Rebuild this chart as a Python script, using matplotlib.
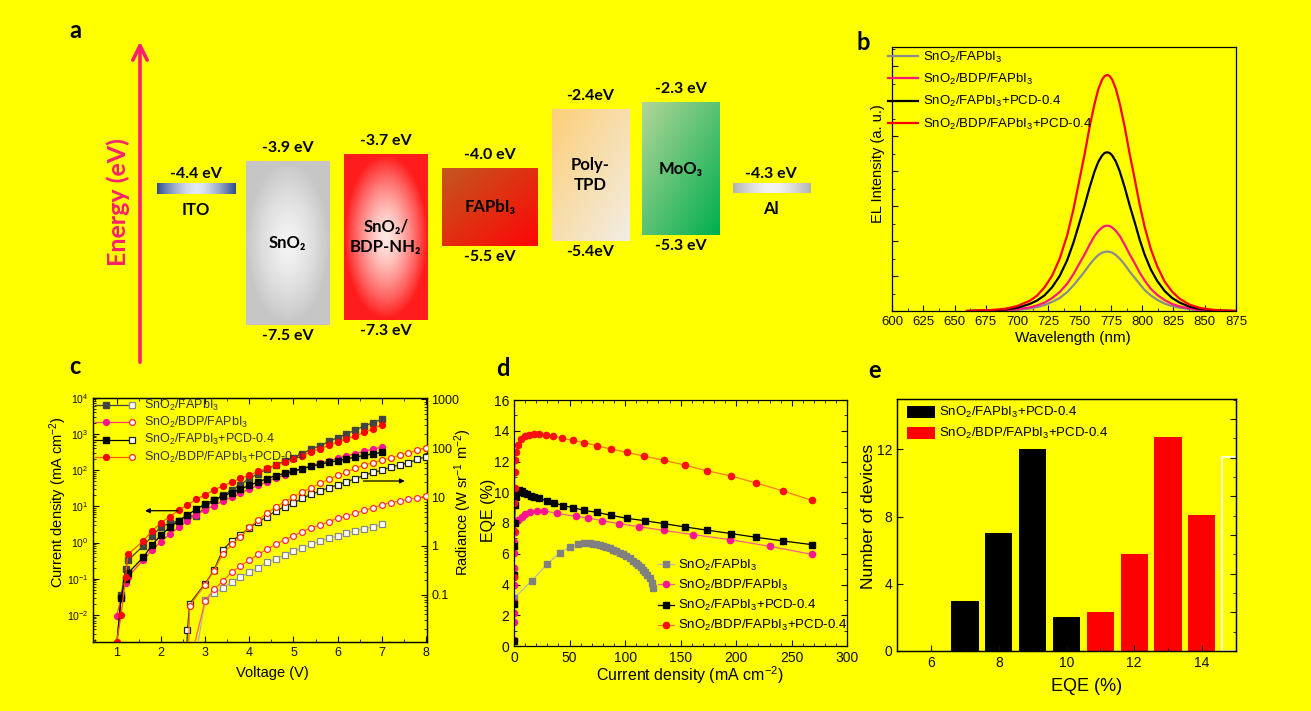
import numpy as np
import matplotlib
matplotlib.use('Agg')
import matplotlib.pyplot as plt
from matplotlib.ticker import MultipleLocator, LogLocator, NullFormatter

plt.rcParams['font.family'] = ['Liberation Sans', 'DejaVu Sans']
plt.rcParams['mathtext.fontset'] = 'custom'
plt.rcParams['mathtext.rm'] = 'Liberation Sans'
plt.rcParams['mathtext.it'] = 'Liberation Sans:italic'
plt.rcParams['mathtext.bf'] = 'Liberation Sans:bold'
plt.rcParams['axes.linewidth'] = 0.9

W, H = 1311, 711
BG = '#ffff00'
MAGENTA = '#ff1f6e'
A_FONT = ['Lato', 'DejaVu Sans']

# ---------------- (a) energy levels ----------------
layers = ['ITO', 'SnO₂', 'SnO₂/\nBDP-NH₂', 'FAPbI₃', 'Poly-\nTPD', 'MoO₃', 'Al']
level_top = [-4.4, -3.9, -3.7, -4.0, -2.4, -2.3, -4.3]
level_bottom = [None, -7.5, -7.3, -5.5, -5.4, -5.3, None]

# ---------------- (b) EL spectra ----------------
wavelength = [660, 680, 690, 700, 710, 716, 722, 728, 734, 740, 745, 750, 754, 758, 762,
              765, 768, 770, 772, 774, 776, 779, 782, 786, 790, 794, 798, 802, 807, 812,
              818, 824, 830, 838, 846, 855, 865, 875]
el_ref = [0.0, 0.01, 0.02, 0.03, 0.07, 0.11, 0.17, 0.26, 0.37, 0.54, 0.73, 0.95, 1.13, 1.33,
          1.50, 1.60, 1.67, 1.69, 1.70, 1.69, 1.67, 1.60, 1.50, 1.33, 1.13, 0.95, 0.77, 0.60,
          0.44, 0.32, 0.21, 0.14, 0.09, 0.05, 0.02, 0.01, 0.0, 0.0]
el_bdp = [0.0, 0.01, 0.02, 0.05, 0.10, 0.16, 0.24, 0.37, 0.54, 0.78, 1.05, 1.37, 1.62, 1.90,
          2.15, 2.29, 2.39, 2.43, 2.44, 2.43, 2.39, 2.29, 2.15, 1.90, 1.62, 1.37, 1.10, 0.87,
          0.63, 0.46, 0.31, 0.20, 0.13, 0.07, 0.03, 0.01, 0.0, 0.0]
el_pcd = [0.0, 0.02, 0.04, 0.09, 0.20, 0.30, 0.45, 0.68, 1.00, 1.45, 1.95, 2.54, 3.02, 3.54,
          4.00, 4.27, 4.45, 4.52, 4.54, 4.52, 4.45, 4.27, 4.00, 3.54, 3.02, 2.54, 2.04, 1.61,
          1.18, 0.86, 0.57, 0.37, 0.24, 0.12, 0.06, 0.03, 0.01, 0.0]
el_bdp_pcd = [0.0, 0.03, 0.06, 0.14, 0.29, 0.44, 0.68, 1.01, 1.49, 2.16, 2.90, 3.78, 4.49,
              5.27, 5.94, 6.35, 6.62, 6.72, 6.75, 6.72, 6.62, 6.35, 5.94, 5.27, 4.49, 3.78,
              3.04, 2.40, 1.76, 1.28, 0.84, 0.55, 0.35, 0.18, 0.09, 0.04, 0.01, 0.0]

# ---------------- (c) J-V and radiance ----------------
voltage = [1.0, 1.1, 1.2, 1.25, 1.6, 1.8, 2.0, 2.2, 2.4, 2.6, 2.8, 3.0, 3.2, 3.4, 3.6, 3.8,
           4.0, 4.2, 4.4, 4.6, 4.8, 5.0, 5.2, 5.4, 5.6, 5.8, 6.0, 6.2, 6.4, 6.6, 6.8, 7.0]
j_ref = [0.0015, 0.035, 0.19, 0.32, 0.8, 1.5, 2.7, 3.4, 4.0, 5.5, 5.3, 9.5, 14.5, 20, 28, 40,
         58, 80, 107, 138, 178, 220, 285, 380, 470, 620, 790, 1000, 1280, 1650, 2040, 2520]
j_bdp = [0.0093, 0.03, 0.075, 0.11, 0.33, 0.62, 1.05, 1.7, 2.6, 4.0, 5.8, 8, 10.5, 14, 18, 23,
         30, 38, 48, 60, 74, 92, 110, 130, 155, 180, 210, 245, 285, 330, 380, 430]
j_pcd = [0.0015, 0.03, 0.1, 0.14, 0.39, 0.85, 1.6, 2.6, 4.0, 5.8, 8.3, 11.5, 15, 19, 24, 30,
         38, 47, 58, 70, 82, 94, 110, 127, 145, 164, 183, 203, 228, 255, 280, 310]
j_bdp_pcd = [0.0018, 0.010, 0.11, 0.47, 1.1, 2.1, 3.5, 5.1, 7.8, 11, 15.5, 21, 28, 37, 46, 59,
             73, 92, 112, 135, 165, 200, 250, 320, 390, 480, 600, 730, 880, 1100, 1400, 1780]

v_rad_ref = [2.78, 3.0, 3.2, 3.4, 3.6, 3.8, 4.0, 4.2, 4.4, 4.6, 4.8, 5.0, 5.2, 5.4, 5.6, 5.8,
             6.0, 6.2, 6.4, 6.6, 6.8, 7.0]
rad_ref = [0.005, 0.077, 0.107, 0.14, 0.18, 0.23, 0.29, 0.36, 0.46, 0.55, 0.65, 0.79, 0.92,
           1.08, 1.26, 1.44, 1.6, 1.82, 2.03, 2.26, 2.45, 2.77]
v_rad_bdp = [2.68, 3.0, 3.2, 3.4, 3.6, 3.8, 4.0, 4.2, 4.4, 4.6, 4.8, 5.0, 5.2, 5.4, 5.6, 5.8,
             6.0, 6.2, 6.4, 6.6, 6.8, 7.0, 7.2, 7.4, 7.6, 7.8, 8.0]
rad_bdp = [0.005, 0.075, 0.13, 0.19, 0.29, 0.39, 0.51, 0.67, 0.86, 1.08, 1.35, 1.6, 1.97, 2.37,
           2.65, 3.15, 3.68, 4.1, 4.66, 5.37, 6.1, 6.9, 7.7, 8.3, 9.0, 9.7, 10.5]
v_rad_pcd = [2.58, 2.6, 2.65, 3.0, 3.2, 3.4, 3.6, 3.8, 4.0, 4.2, 4.4, 4.6, 4.8, 5.0, 5.2, 5.4,
             5.6, 5.8, 6.0, 6.2, 6.4, 6.6, 6.8, 7.0, 7.2, 7.4, 7.6, 7.8, 8.0]
rad_pcd = [0.005, 0.019, 0.066, 0.17, 0.32, 0.83, 1.26, 1.68, 2.37, 3.1, 4.0, 5.2, 6.4, 7.6,
           9.4, 11.4, 13.3, 15.6, 17.7, 20.7, 23.8, 28, 32, 35.3, 41.3, 45.4, 50.7, 59.3, 67]
v_rad_bdp_pcd = [2.62, 2.65, 3.0, 3.2, 3.4, 3.6, 3.8, 4.0, 4.2, 4.4, 4.6, 4.8, 5.0, 5.2, 5.4,
                 5.6, 5.8, 6.0, 6.2, 6.4, 6.6, 6.8, 7.0, 7.2, 7.4, 7.6, 7.8, 8.0]
rad_bdp_pcd = [0.005, 0.06, 0.16, 0.31, 0.68, 1.08, 1.5, 2.45, 3.35, 4.8, 6.3, 8.1, 10.2, 12.7,
               15.6, 19.1, 23, 27.9, 32.6, 38.8, 45.4, 50.7, 56.5, 64, 71.6, 81, 90.5, 103]

# ---------------- (d) EQE vs current density ----------------
jd_ref = [0, 16, 30, 41, 50, 58, 63, 68, 71, 74, 77, 80, 83, 86, 89, 92, 95, 98, 101, 104,
          107, 110, 112, 114, 116, 118, 120, 122, 124, 125.5]
eqe_ref = [3.1, 4.25, 5.33, 6.05, 6.42, 6.63, 6.68, 6.68, 6.65, 6.61, 6.56, 6.50, 6.43, 6.35,
           6.27, 6.18, 6.08, 5.96, 5.84, 5.70, 5.55, 5.40, 5.27, 5.13, 4.97, 4.80, 4.62, 4.40,
           4.10, 3.80]
jd_bdp = [0.01, 0.03, 0.05, 0.08, 0.12, 0.2, 0.3, 0.45, 0.7, 1.1, 2.0, 3.9, 6.9, 9.9, 14.4,
          20.4, 27.0, 39.0, 55.8, 66.9, 79.5, 94.5, 112.5, 134.7, 161.4, 194.7, 230.4, 268.2]
eqe_bdp = [0.39, 1.58, 2.12, 2.88, 3.97, 5.05, 6.03, 6.79, 7.44, 7.98, 8.1, 8.2, 8.41, 8.61,
           8.74, 8.8, 8.8, 8.62, 8.43, 8.33, 8.15, 7.96, 7.76, 7.52, 7.24, 6.92, 6.48, 5.96]
jd_pcd = [0.0, 0.05, 0.1, 0.2, 0.5, 1.0, 1.5, 3.3, 4.8, 6.9, 9.3, 12.0, 15.0, 18.3, 22.8, 29.4,
          36.3, 43.8, 53.4, 63.0, 75.0, 87.3, 102.0, 117.6, 134.7, 154.2, 173.4, 195.6, 217.8,
          242.4, 268.2]
eqe_pcd = [0.3, 2.7, 4.6, 6.5, 8.0, 9.2, 9.7, 10.0, 10.15, 10.08, 9.97, 9.86, 9.78, 9.71, 9.6,
           9.45, 9.32, 9.13, 9.0, 8.82, 8.69, 8.5, 8.3, 8.15, 7.96, 7.74, 7.54, 7.31, 7.07, 6.83,
           6.59]
jd_bdp_pcd = [0.0, 0.1, 0.3, 0.6, 0.9, 1.2, 2.1, 3.9, 6.3, 9.9, 13.8, 18.3, 22.8, 28.8, 35.4,
              43.5, 52.8, 63.3, 74.4, 87.3, 101.7, 117.3, 135.0, 153.6, 173.4, 195.3, 218.1,
              242.4, 268.2]
eqe_bdp_pcd = [4.5, 7.5, 9.3, 10.3, 11.3, 12.1, 12.65, 13.1, 13.45, 13.65, 13.74, 13.78, 13.79,
               13.72, 13.66, 13.5, 13.38, 13.22, 13.03, 12.81, 12.6, 12.34, 12.08, 11.77, 11.4,
               11.06, 10.6, 10.08, 9.47]

# ---------------- (e) EQE histogram ----------------
bins_pcd = [7, 8, 9, 10]
count_pcd = [3, 7, 12, 2]
bins_bdp_pcd = [11, 12, 13, 14]
count_bdp_pcd = [2.3, 5.8, 12.75, 8.1]
bins_edge = [15]
count_edge = [11.55]

lab_ref = 'SnO$_2$/FAPbI$_3$'
lab_bdp = 'SnO$_2$/BDP/FAPbI$_3$'
lab_pcd = 'SnO$_2$/FAPbI$_3$+PCD-0.4'
lab_bdp_pcd = 'SnO$_2$/BDP/FAPbI$_3$+PCD-0.4'


def px_rect(x0, y0, x1, y1):
    return [x0 / W, 1 - y1 / H, (x1 - x0) / W, (y1 - y0) / H]


def style_ticks(ax, size):
    ax.tick_params(which='both', direction='in', labelsize=size, colors='#111111')
    ax.tick_params(which='major', length=4, width=0.8)
    ax.tick_params(which='minor', length=2, width=0.6)
    ax.set_facecolor('none')


fig = plt.figure(figsize=(W / 100, H / 100), dpi=100, facecolor=BG)

# ======== panel a ========
ax_a = fig.add_axes(px_rect(0, 0, 840, 360))
e_knots = np.array([-8.2, -7.5, -7.3, -5.5, -5.4, -5.3, -4.4, -4.3, -4.0, -3.9, -3.7, -2.4, -2.3, -1.0])
px_knots = np.array([360, 325, 320, 245.7, 241, 235.3, 188.8, 188.0, 167.7, 161, 154, 109, 101.7, 0])


def e_fwd(e):
    return -np.interp(e, e_knots, px_knots)


def e_inv(v):
    return np.interp(-np.asarray(v), px_knots[::-1], e_knots[::-1])


ax_a.set_yscale('function', functions=(e_fwd, e_inv))
ax_a.set_xlim(0, 840)
ax_a.set_ylim(-8.2, -1.0)
ax_a.set_axis_off()
ax_a.set_zorder(5)

slot_left = [156.7, 246, 344, 442.3, 551.7, 642.3, 732.7]
slot_right = [235, 329.3, 427.7, 537.7, 629.3, 720, 810]
fills = [('h', '#e3e9f3', '#2f4e8c'), ('r', '#f4f4f4', '#c6c6c6'), ('r', '#ffeae4', '#ff1c1c'),
         ('d', '#c3581f', '#ff0505'), ('d', '#fdcf78', '#f2ede4'), ('d', '#b3d698', '#00ae4e'),
         ('h', '#f4f4f4', '#b2b2b2')]


def gradient(kind, c0, c1, n=80):
    c0 = np.array(matplotlib.colors.to_rgb(c0))
    c1 = np.array(matplotlib.colors.to_rgb(c1))
    X, Y = np.meshgrid(np.linspace(-1, 1, n), np.linspace(-1, 1, n))
    if kind == 'h':
        t = np.abs(X) ** 1.6
    elif kind == 'r':
        t = np.clip(np.hypot(X, Y), 0, 1) ** 1.4
    else:
        t = (X + Y + 2) / 4
    return c0 * (1 - t)[..., None] + c1 * t[..., None]


inv_fig = fig.transFigure.inverted()
for i, name in enumerate(layers):
    xl, xr = slot_left[i], slot_right[i]
    xc = (xl + xr) / 2
    top, bot = level_top[i], level_bottom[i]
    (dx0, dyt), (dx1, _) = ax_a.transData.transform([(xl, top), (xr, top)])
    if bot is None:
        dy0, dy1 = dyt - 5.5, dyt + 5.5
    else:
        dy0 = ax_a.transData.transform((xl, bot))[1]
        dy1 = dyt
    (fx0, fy0), (fx1, fy1) = inv_fig.transform([(dx0, dy0), (dx1, dy1)])
    ia = fig.add_axes([fx0, fy0, fx1 - fx0, fy1 - fy0])
    ia.imshow(gradient(*fills[i]), aspect='auto', interpolation='bilinear')
    ia.set_axis_off()

    fmt = '{:.1f}eV' if name.startswith('Poly') else '{:.1f} eV'
    txt = dict(ha='center', va='center', family=A_FONT, fontweight='bold',
               textcoords='offset pixels')
    if bot is None:
        ax_a.annotate(fmt.format(top), (xc, top), xytext=(0, 14.5), fontsize=11.5, **txt)
        ax_a.annotate(name, (xc, top), xytext=(0, -21), fontsize=12, **txt)
    else:
        ax_a.annotate(fmt.format(top), (xc, top), xytext=(0, 13), fontsize=11.5, **txt)
        ax_a.annotate(fmt.format(bot), (xc, bot), xytext=(0, -11), fontsize=11.5, **txt)
        ax_a.annotate(name, (xc, top), xytext=(0, (dy0 - dy1) / 2), linespacing=1.3,
                      fontsize=12, **txt)

ax_a.annotate('', xy=(140 / 840, (360 - 41.7) / 360), xytext=(140 / 840, -0.006),
              xycoords='axes fraction',
              arrowprops=dict(arrowstyle='->', lw=2.6, color=MAGENTA, mutation_scale=26,
                              shrinkA=0, shrinkB=0))
ax_a.text(118 / 840, (360 - 202) / 360, 'Energy (eV)', transform=ax_a.transAxes, rotation=90,
          ha='center', va='center', color=MAGENTA, family=A_FONT, fontweight='bold', fontsize=18)

# ======== panel b ========
ax_b = fig.add_axes(px_rect(892, 47, 1236, 311))
ax_b.plot(wavelength, el_ref, color='#8c8c8c', lw=1.6, label=lab_ref)
ax_b.plot(wavelength, el_bdp, color='#ff1a7a', lw=1.6, label=lab_bdp)
ax_b.plot(wavelength, el_pcd, color='black', lw=1.6, label=lab_pcd)
ax_b.plot(wavelength, el_bdp_pcd, color='#ff0000', lw=1.6, label=lab_bdp_pcd)
ax_b.set_xlim(600, 875)
ax_b.set_ylim(0, 7.55)
ax_b.xaxis.set_major_locator(MultipleLocator(25))
ax_b.xaxis.set_minor_locator(MultipleLocator(12.5))
ax_b.yaxis.set_major_locator(MultipleLocator(1))
ax_b.yaxis.set_minor_locator(MultipleLocator(0.5))
ax_b.set_yticklabels([])
style_ticks(ax_b, 9.5)
ax_b.set_xlabel('Wavelength (nm)', fontsize=11, va='center')
ax_b.xaxis.set_label_coords(0.527, -0.103)
ax_b.set_ylabel('EL Intensity (a. u.)', fontsize=10.5, va='center')
ax_b.yaxis.set_label_coords(-0.04, 0.56)
ax_b.legend(loc='upper left', bbox_to_anchor=(-0.012, 0.99), frameon=False, fontsize=9.5,
            handlelength=2.25, handletextpad=0.4, labelspacing=0.55, borderpad=0,
            borderaxespad=0)

# ======== panel c ========
ax_c = fig.add_axes(px_rect(93.3, 397.7, 426.7, 641.7))
ax_c.set_yscale('log')
ax_c.set_xlim(0.47, 8.015)
ax_c.set_ylim(10 ** -2.74, 1e4)
ax_c2 = ax_c.twinx()
ax_c2.set_yscale('log')
ax_c2.set_ylim(0.011, 1084)

series_c = [
    (j_ref, v_rad_ref, rad_ref, 's', '#444444', '#444444', '#8a8a8a', '#b5b5b5', lab_ref),
    (j_bdp, v_rad_bdp, rad_bdp, 'o', '#ff1493', '#ff3c6e', '#ff2a40', '#ff6a3c', lab_bdp),
    (j_pcd, v_rad_pcd, rad_pcd, 's', '#000000', '#000000', '#222222', '#333333', lab_pcd),
    (j_bdp_pcd, v_rad_bdp_pcd, rad_bdp_pcd, 'o', '#ff0000', '#ff5a00', '#ff2a00', '#ff7a00',
     lab_bdp_pcd),
]
for jv, vr, rr, mk, mc, lc, oc, olc, lab in series_c:
    ax_c.plot(voltage, jv, '-', color=lc, lw=0.9, marker=mk, ms=4.2, mfc=mc, mec=mc, zorder=3)
    ax_c2.plot(vr, rr, '-', color=olc, lw=0.9, marker=mk, ms=4.2, mfc='white', mec=oc,
               mew=0.9, zorder=3)

ax_c.xaxis.set_major_locator(MultipleLocator(1))
ax_c.xaxis.set_minor_locator(MultipleLocator(0.5))
ax_c.yaxis.set_major_locator(LogLocator(base=10, numticks=12))
ax_c.yaxis.set_minor_locator(LogLocator(base=10, subs=np.arange(2, 10), numticks=12))
ax_c.yaxis.set_minor_formatter(NullFormatter())
style_ticks(ax_c, 9)
ax_c.tick_params(axis='y', labelsize=7.5)
ax_c.tick_params(axis='x', top=True, which='both')
ax_c2.set_yticks([0.1, 1, 10, 100, 1000])
ax_c2.set_yticklabels(['0.1', '1', '10', '100', '1000'])
ax_c2.yaxis.set_minor_locator(LogLocator(base=10, subs=np.arange(2, 10), numticks=12))
ax_c2.yaxis.set_minor_formatter(NullFormatter())
style_ticks(ax_c2, 9)
ax_c.set_xlabel('Voltage (V)', fontsize=10.5, va='center')
ax_c.xaxis.set_label_coords(0.537, -0.13)
ax_c.set_ylabel('Current density (mA cm$^{-2}$)', fontsize=10.5, va='center')
ax_c.yaxis.set_label_coords(-0.104, 0.574)
ax_c2.set_ylabel('Radiance (W sr$^{-1}$ m$^{-2}$)', fontsize=10.5, va='center', rotation=90)
ax_c2.yaxis.set_label_coords(1.109, 0.573)

ax_c.annotate('', xy=(1.64, 7.55), xytext=(2.39, 7.55),
              arrowprops=dict(arrowstyle='-|>', color='black', lw=0.9, mutation_scale=7,
                              shrinkA=0, shrinkB=0))
ax_c2.annotate('', xy=(7.52, 21.4), xytext=(6.58, 21.4),
               arrowprops=dict(arrowstyle='-|>', color='black', lw=0.9, mutation_scale=7,
                               shrinkA=0, shrinkB=0))

# hand-built legend: filled marker for J, open marker for radiance
for k, (jv, vr, rr, mk, mc, lc, oc, olc, lab) in enumerate(series_c):
    fy = (641.7 - (405 + 17.4 * k)) / 244
    fx = lambda px: (px - 93.3) / 333.4
    ax_c2.plot([fx(95), fx(134)], [fy, fy], '-', color=lc, lw=0.9, transform=ax_c.transAxes,
               clip_on=False)
    ax_c2.plot([fx(106)], [fy], marker=mk, ms=4.2, mfc=mc, mec=mc, transform=ax_c.transAxes)
    ax_c2.plot([fx(131.7)], [fy], marker=mk, ms=4.2, mfc='white', mec=oc, mew=0.9,
               transform=ax_c.transAxes)
    ax_c2.text(fx(144), fy, lab, transform=ax_c.transAxes, fontsize=9, color='#333333',
               va='center', ha='left')

# ======== panel d ========
ax_d = fig.add_axes(px_rect(514, 400, 847.3, 646))
ax_d.plot(jd_ref, eqe_ref, '-', color='#b8b8b8', lw=0.9, marker='s', ms=4.5, mfc='#808080',
          mec='#808080', label=lab_ref)
ax_d.plot(jd_bdp, eqe_bdp, '-', color='#ff5c8a', lw=0.9, marker='o', ms=4.5, mfc='#ff1493',
          mec='#ff1493', label=lab_bdp)
ax_d.plot(jd_pcd, eqe_pcd, '-', color='#000000', lw=0.9, marker='s', ms=4.5, mfc='#000000',
          mec='#000000', label=lab_pcd)
ax_d.plot(jd_bdp_pcd, eqe_bdp_pcd, '-', color='#ff7a1a', lw=0.9, marker='o', ms=4.5,
          mfc='#ff1010', mec='#ff1010', label=lab_bdp_pcd)
ax_d.set_xlim(0, 300)
ax_d.set_ylim(0, 16)
ax_d.xaxis.set_major_locator(MultipleLocator(50))
ax_d.xaxis.set_minor_locator(MultipleLocator(10))
ax_d.yaxis.set_major_locator(MultipleLocator(2))
ax_d.yaxis.set_minor_locator(MultipleLocator(1))
style_ticks(ax_d, 10)
ax_d.tick_params(which='both', top=True, right=True)
ax_d.set_xlabel('Current density (mA cm$^{-2}$)', fontsize=11.5, va='center')
ax_d.xaxis.set_label_coords(0.528, -0.118)
ax_d.set_ylabel('EQE (%)', fontsize=11.5, va='center')
ax_d.yaxis.set_label_coords(-0.077, 0.553)
ax_d.legend(loc='upper left', bbox_to_anchor=(0.432, 0.358), frameon=False, fontsize=9.5,
            handlelength=1.2, handletextpad=0.3, labelspacing=0.38, borderpad=0,
            borderaxespad=0)

# ======== panel e ========
ax_e = fig.add_axes(px_rect(897.3, 399, 1235.7, 651))
ax_e.bar(bins_pcd, count_pcd, width=0.8, color='black', label=lab_pcd)
ax_e.bar(bins_bdp_pcd, count_bdp_pcd, width=0.8, color='#ff0000', label=lab_bdp_pcd)
ax_e.bar(bins_edge, count_edge, width=0.8, facecolor='none', edgecolor='white', lw=1.2)
ax_e.set_xlim(5, 15)
ax_e.set_ylim(0, 15)
ax_e.set_xticks([6, 8, 10, 12, 14])
ax_e.xaxis.set_minor_locator(MultipleLocator(1))
ax_e.set_yticks([0, 4, 8, 12])
style_ticks(ax_e, 10)
ax_e2 = ax_e.twinx()
ax_e2.set_ylim(0, 13.03)
ax_e2.yaxis.set_major_locator(MultipleLocator(2))
ax_e2.yaxis.set_minor_locator(MultipleLocator(1))
ax_e2.set_yticklabels([])
style_ticks(ax_e2, 10)
ax_e.set_xlabel('EQE (%)', fontsize=13, va='center')
ax_e.xaxis.set_label_coords(0.56, -0.142)
ax_e.set_ylabel('Number of devices', fontsize=12.5, va='center')
ax_e.yaxis.set_label_coords(-0.085, 0.533)
ax_e.legend(loc='upper left', bbox_to_anchor=(0.028, 0.975), frameon=False, fontsize=9.5,
            handlelength=2.15, handleheight=1.05, handletextpad=0.3, labelspacing=0.45,
            borderpad=0, borderaxespad=0)

# panel letters
for letter, (px, py) in zip('abcde', [(75, 30), (863, 43), (75, 367), (503, 368), (875, 370)]):
    fig.text(px / W, 1 - py / H, letter, ha='center', va='center', family=A_FONT,
             fontweight='bold', fontsize=17)

fig.savefig('out.png', dpi=100, facecolor=BG)
